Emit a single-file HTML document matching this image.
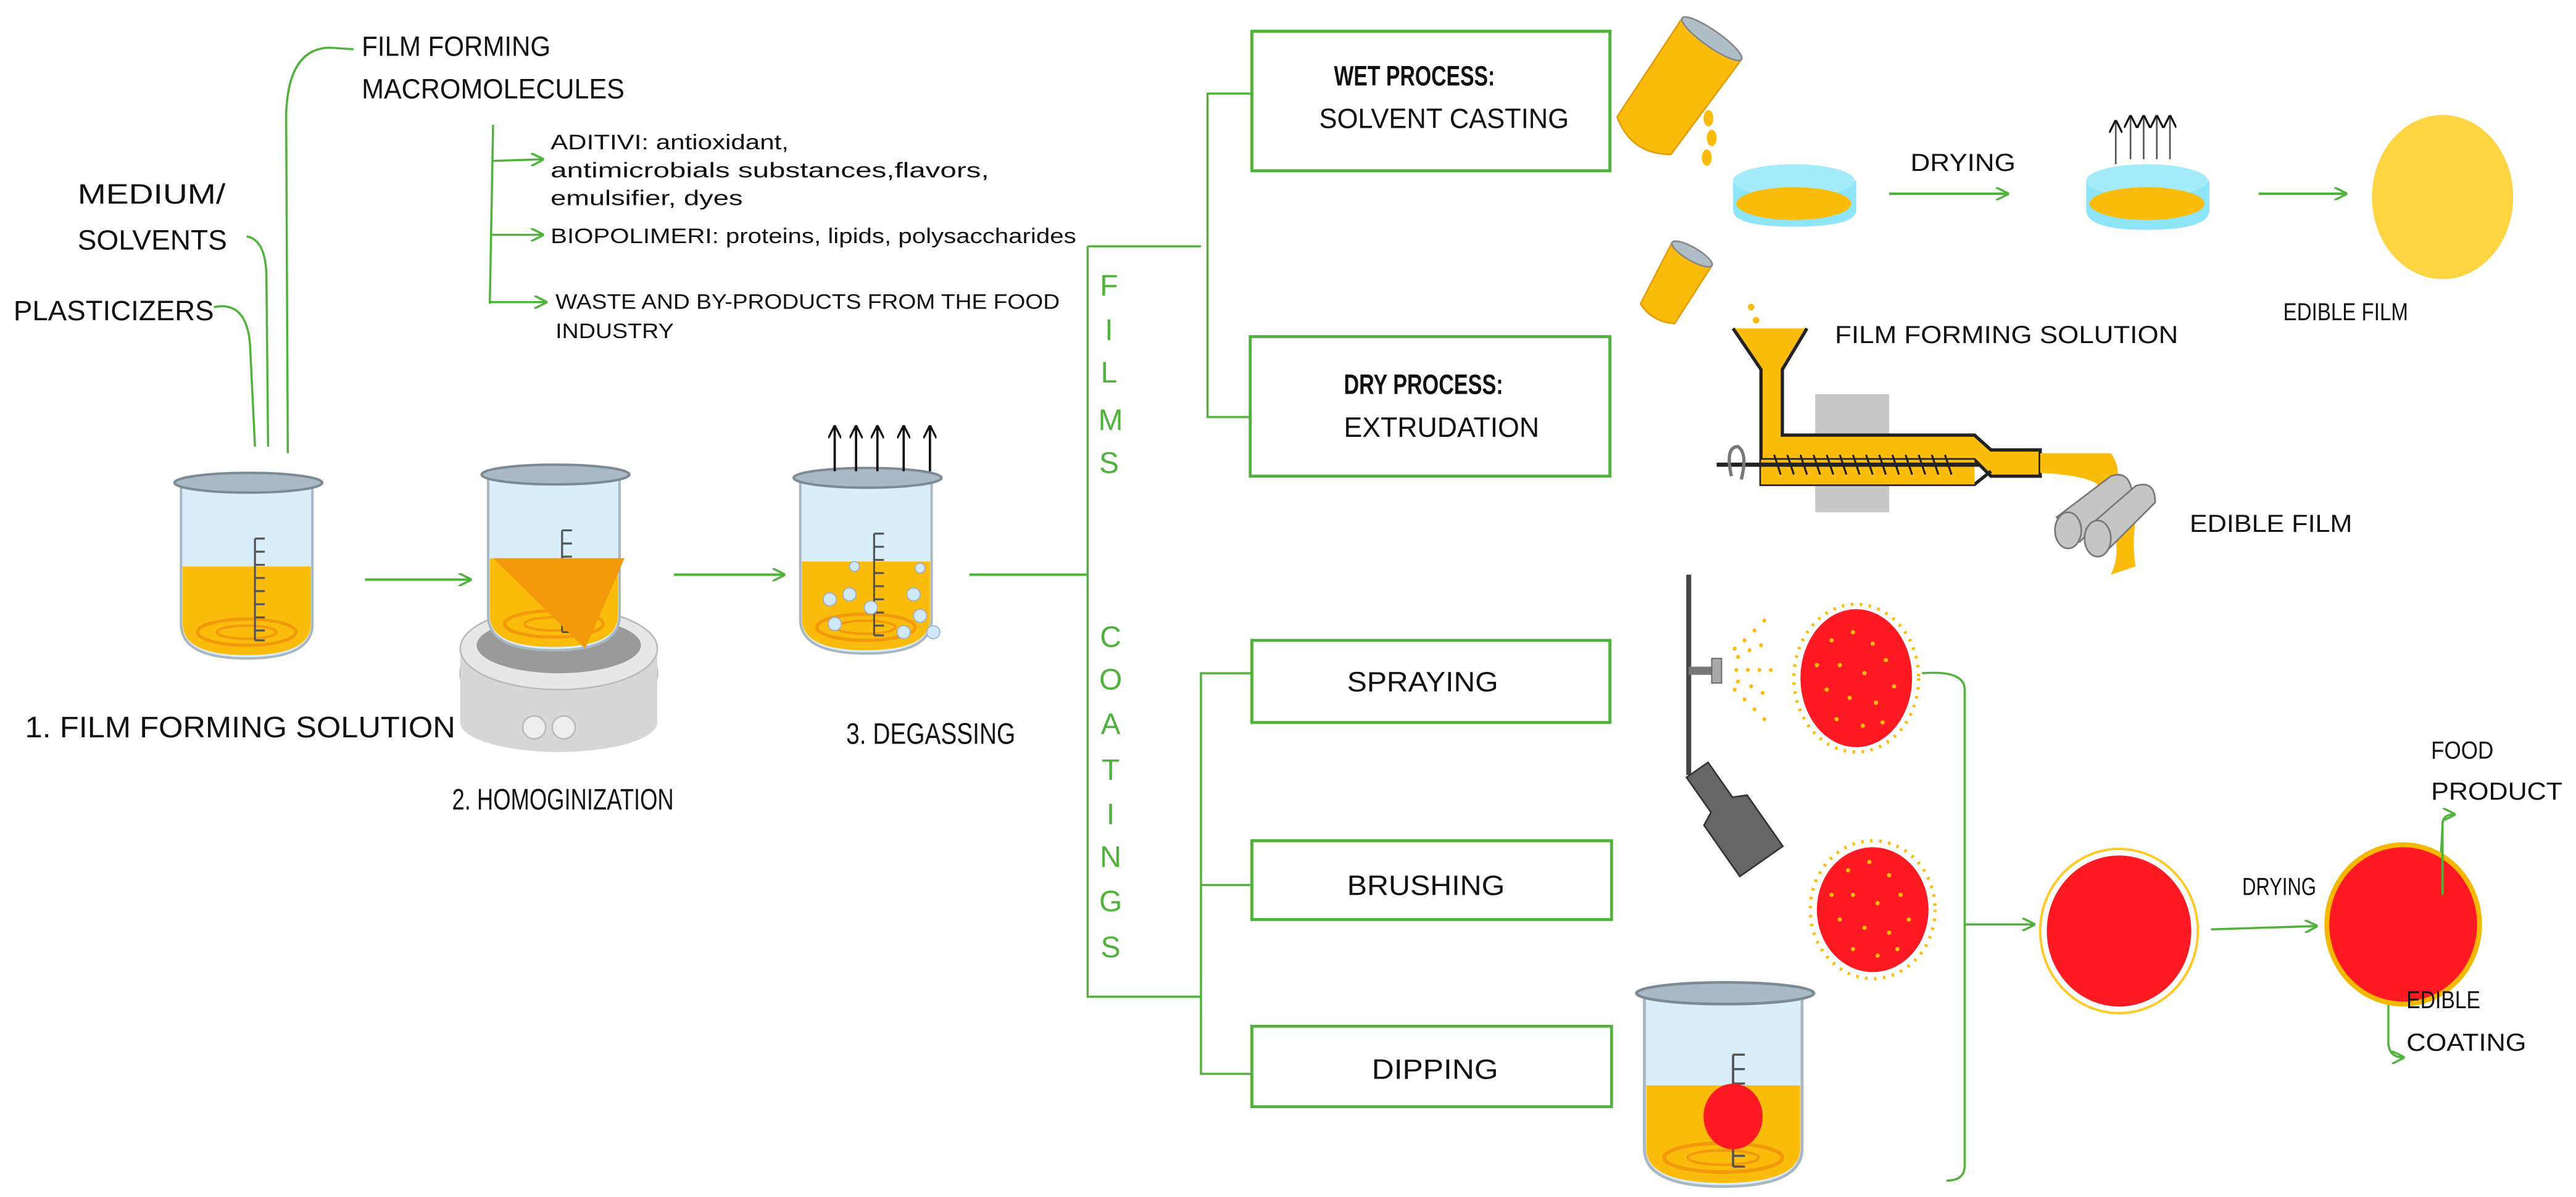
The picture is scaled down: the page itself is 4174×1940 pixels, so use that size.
<!DOCTYPE html>
<html><head><meta charset="utf-8"><style>
html,body{margin:0;padding:0;background:#fff;}
svg{display:block;}
text{font-family:"Liberation Sans",sans-serif;fill:#111;}
.g{fill:#4fb23a;}
</style></head><body>
<svg width="4174" height="1940" viewBox="0 0 1568 729" xmlns="http://www.w3.org/2000/svg">
<defs>
<marker id="ah" markerWidth="8" markerHeight="8" refX="7" refY="4" orient="auto" markerUnits="userSpaceOnUse"><path d="M0,0 L8,4 L0,8" fill="none" stroke="#4fb23a" stroke-width="1.3"/></marker>
<marker id="ak" markerWidth="8" markerHeight="8" refX="7" refY="4" orient="auto" markerUnits="userSpaceOnUse"><path d="M0,0 L8,4 L0,8" fill="none" stroke="#111" stroke-width="1.2"/></marker>
<g id="bk">
<path d="M5,10 L5,95 Q5,116 45,116 Q85,116 85,95 L85,10 Z" fill="#d8eefa" stroke="#a9b7c2" stroke-width="1.5"/>
<path d="M6,60 L84,60 L84,95 Q84,114 45,114 Q6,114 6,95 Z" fill="#fbbc0c"/>
<ellipse cx="45" cy="100" rx="30" ry="8" fill="none" stroke="#f29a0a" stroke-width="2"/>
<ellipse cx="45" cy="100" rx="18" ry="4" fill="none" stroke="#f29a0a" stroke-width="1.5"/>
<ellipse cx="46" cy="9" rx="45" ry="6" fill="#a9bac4" stroke="#7c8a94" stroke-width="1.5"/>
<path d="M50,43 L50,105 M50,43 L56,43 M50,51 L56,51 M50,59 L56,59 M50,67 L56,67 M50,75 L56,75 M50,83 L56,83 M50,91 L56,91 M50,99 L56,99 M50,105 L56,105" stroke="#555" stroke-width="1.2" fill="none"/>
</g>
</defs>

<!-- top-left labels -->
<text x="220" y="34" font-size="17" textLength="115" lengthAdjust="spacingAndGlyphs">FILM FORMING</text>
<text x="220" y="60" font-size="17" textLength="160" lengthAdjust="spacingAndGlyphs">MACROMOLECULES</text>
<text x="47" y="124" font-size="17" textLength="90" lengthAdjust="spacingAndGlyphs">MEDIUM/</text>
<text x="47" y="152" font-size="17" textLength="91" lengthAdjust="spacingAndGlyphs">SOLVENTS</text>
<text x="8" y="195" font-size="17" textLength="122" lengthAdjust="spacingAndGlyphs">PLASTICIZERS</text>
<g fill="none" stroke="#4fb23a" stroke-width="1.3">
<path d="M175,276 L174,70 Q175,30 200,29 L215,30"/>
<path d="M150,144 Q162,146 162,170 L163,272"/>
<path d="M130,187 Q150,183 152,210 L155,272"/>
<path d="M300,76 L298,185"/>
<path d="M300,98 L330,97" marker-end="url(#ah)"/>
<path d="M299,143 L330,143" marker-end="url(#ah)"/>
<path d="M298,184 L332,184" marker-end="url(#ah)"/>
</g>
<text x="335" y="91" font-size="13" textLength="145" lengthAdjust="spacingAndGlyphs">ADITIVI: antioxidant,</text>
<text x="335" y="108" font-size="13" textLength="267" lengthAdjust="spacingAndGlyphs">antimicrobials substances,flavors,</text>
<text x="335" y="125" font-size="13" textLength="117" lengthAdjust="spacingAndGlyphs">emulsifier, dyes</text>
<text x="335" y="148" font-size="13" textLength="320" lengthAdjust="spacingAndGlyphs">BIOPOLIMERI: proteins, lipids, polysaccharides</text>
<text x="338" y="188" font-size="13" textLength="307" lengthAdjust="spacingAndGlyphs">WASTE AND BY-PRODUCTS FROM THE FOOD</text>
<text x="338" y="206" font-size="13" textLength="72" lengthAdjust="spacingAndGlyphs">INDUSTRY</text>

<!-- beakers -->
<use href="#bk" transform="translate(105,285)"/>
<ellipse cx="340" cy="410" rx="60" ry="33" fill="#c9c9c9" stroke="#aaa"/>
<rect x="280" y="395" width="120" height="45" fill="#d7d7d7"/>
<ellipse cx="340" cy="440" rx="60" ry="18" fill="#d7d7d7"/>
<ellipse cx="340" cy="395" rx="60" ry="25" fill="#e7e7e7" stroke="#bbb"/>
<ellipse cx="340" cy="393" rx="50" ry="17" fill="#9a9a9a"/>
<circle cx="325" cy="443" r="7" fill="#eee" stroke="#bbb"/>
<circle cx="343" cy="443" r="7" fill="#eee" stroke="#bbb"/>
<use href="#bk" transform="translate(292,280)"/>
<path d="M300,340 L380,340 L356,395 Z" fill="#f29a0a"/>
<use href="#bk" transform="translate(482,282)"/>
<g fill="#cfe8fa" stroke="#9ac" stroke-width="0.6">
<circle cx="505" cy="365" r="4"/><circle cx="517" cy="362" r="4"/><circle cx="530" cy="370" r="4"/><circle cx="508" cy="380" r="4"/><circle cx="556" cy="362" r="4"/><circle cx="560" cy="375" r="4"/><circle cx="550" cy="385" r="4"/><circle cx="568" cy="385" r="4"/><circle cx="520" cy="345" r="3"/><circle cx="560" cy="346" r="3"/>
</g>
<g stroke="#111" stroke-width="1.4">
<line x1="508" y1="287" x2="508" y2="260" marker-end="url(#ak)"/>
<line x1="521" y1="287" x2="521" y2="260" marker-end="url(#ak)"/>
<line x1="534" y1="287" x2="534" y2="260" marker-end="url(#ak)"/>
<line x1="550" y1="287" x2="550" y2="260" marker-end="url(#ak)"/>
<line x1="566" y1="287" x2="566" y2="260" marker-end="url(#ak)"/>
</g>
<g fill="none" stroke="#4fb23a" stroke-width="1.5">
<line x1="222" y1="353" x2="286" y2="353" marker-end="url(#ah)"/>
<line x1="410" y1="350" x2="477" y2="350" marker-end="url(#ah)"/>
<line x1="590" y1="350" x2="662" y2="350"/>
</g>
<text x="15" y="449" font-size="18" textLength="262" lengthAdjust="spacingAndGlyphs">1. FILM FORMING SOLUTION</text>
<text x="275" y="493" font-size="18" textLength="135" lengthAdjust="spacingAndGlyphs">2. HOMOGINIZATION</text>
<text x="515" y="453" font-size="18" textLength="103" lengthAdjust="spacingAndGlyphs">3. DEGASSING</text>

<!-- brackets -->
<g fill="none" stroke="#4fb23a" stroke-width="1.3">
<path d="M662,150 L662,607 L731,607"/>
<path d="M662,150 L731,150"/>
<path d="M762,57 L735,57 L735,254 L762,254"/>
<path d="M762,410 L731,410 L731,654 L762,654 M731,539 L762,539"/>
</g>
<g font-size="18" text-anchor="middle">
<text x="675" y="180" class="g">F</text><text x="675" y="207" class="g">I</text><text x="675" y="233" class="g">L</text><text x="676" y="262" class="g">M</text><text x="675" y="288" class="g">S</text>
<text x="676" y="394" class="g">C</text><text x="676" y="420" class="g">O</text><text x="676" y="447" class="g">A</text><text x="676" y="475" class="g">T</text><text x="676" y="502" class="g">I</text><text x="676" y="528" class="g">N</text><text x="676" y="555" class="g">G</text><text x="676" y="583" class="g">S</text>
</g>

<!-- boxes -->
<g fill="#fff" stroke="#4fb23a" stroke-width="1.8">
<rect x="762" y="19" width="218" height="85"/>
<rect x="761" y="205" width="219" height="85"/>
<rect x="762" y="390" width="218" height="50"/>
<rect x="762" y="512" width="219" height="48"/>
<rect x="762" y="625" width="219" height="49"/>
</g>
<text x="812" y="52" font-size="17" font-weight="bold" textLength="98" lengthAdjust="spacingAndGlyphs">WET PROCESS:</text>
<text x="803" y="78" font-size="17" textLength="152" lengthAdjust="spacingAndGlyphs">SOLVENT CASTING</text>
<text x="818" y="240" font-size="17" font-weight="bold" textLength="97" lengthAdjust="spacingAndGlyphs">DRY PROCESS:</text>
<text x="818" y="266" font-size="17" textLength="119" lengthAdjust="spacingAndGlyphs">EXTRUDATION</text>
<text x="820" y="421" font-size="17" textLength="92" lengthAdjust="spacingAndGlyphs">SPRAYING</text>
<text x="820" y="545" font-size="17" textLength="96" lengthAdjust="spacingAndGlyphs">BRUSHING</text>
<text x="835" y="657" font-size="17" textLength="77" lengthAdjust="spacingAndGlyphs">DIPPING</text>

<!-- wet process graphics -->
<g transform="translate(1018,58) rotate(35)">
<path d="M-22,-42 L22,-42 L20,30 Q0,44 -20,30 Z" fill="#fbbc0c" stroke="#e39d0a"/>
<ellipse cx="0" cy="-42" rx="22" ry="5" fill="#b0bec8" stroke="#888"/>
</g>
<g fill="#fbbc0c"><ellipse cx="1040" cy="72" rx="3" ry="5"/><ellipse cx="1042" cy="84" rx="3" ry="5"/><ellipse cx="1039" cy="96" rx="3" ry="5"/></g>
<g>
<path d="M1055,110 L1055,128 Q1055,138 1092,138 Q1130,138 1130,128 L1130,110 Z" fill="#8ee4f8"/>
<ellipse cx="1092" cy="110" rx="37" ry="10" fill="#a5ecfb"/>
<ellipse cx="1092" cy="124" rx="35" ry="10" fill="#fbbc0c"/>
<path d="M1270,110 L1270,128 Q1270,140 1307,140 Q1345,140 1345,128 L1345,110 Z" fill="#8ee4f8"/>
<ellipse cx="1307" cy="110" rx="37" ry="10" fill="#a5ecfb"/>
<ellipse cx="1307" cy="124" rx="35" ry="10" fill="#fbbc0c"/>
</g>
<g stroke="#555" stroke-width="1">
<line x1="1288" y1="100" x2="1288" y2="74" marker-end="url(#ak)"/>
<line x1="1297" y1="97" x2="1297" y2="71" marker-end="url(#ak)"/>
<line x1="1305" y1="97" x2="1305" y2="71" marker-end="url(#ak)"/>
<line x1="1313" y1="97" x2="1313" y2="71" marker-end="url(#ak)"/>
<line x1="1321" y1="97" x2="1321" y2="71" marker-end="url(#ak)"/>
</g>
<text x="1163" y="104" font-size="15" textLength="64" lengthAdjust="spacingAndGlyphs">DRYING</text>
<g fill="none" stroke="#4fb23a" stroke-width="1.5">
<line x1="1150" y1="118" x2="1222" y2="118" marker-end="url(#ah)"/>
<line x1="1375" y1="118" x2="1428" y2="118" marker-end="url(#ah)"/>
</g>
<ellipse cx="1487" cy="120" rx="43" ry="50" fill="#fdd442"/>
<text x="1390" y="195" font-size="15" textLength="76" lengthAdjust="spacingAndGlyphs">EDIBLE FILM</text>

<!-- extruder -->
<g transform="translate(1020,172) rotate(30)">
<path d="M-14,-20 L14,-20 L12,22 Q0,28 -12,22 Z" fill="#fbbc0c" stroke="#e39d0a"/>
<ellipse cx="0" cy="-20" rx="14" ry="4" fill="#b0bec8" stroke="#888"/>
</g>
<g fill="#fbbc0c"><circle cx="1066" cy="187" r="2"/><circle cx="1069" cy="195" r="2"/><circle cx="1064" cy="203" r="2"/></g>
<rect x="1105" y="240" width="45" height="72" fill="#c8c8c8"/>
<path d="M1055,200 L1072,225 L1072,280 L1202,280 L1212,290 L1242,290 L1242,274 L1212,274 L1202,265 L1085,265 L1085,225 L1100,200" fill="#fbbc0c" stroke="#222" stroke-width="2"/>
<path d="M1072,280 L1072,295 L1202,295 L1212,287" fill="none" stroke="#222" stroke-width="2"/>
<rect x="1072" y="280" width="130" height="15" fill="#fbbc0c"/>
<line x1="1045" y1="283" x2="1205" y2="283" stroke="#222" stroke-width="2.5"/>
<path d="M1080,277 l4,12 M1088,277 l4,12 M1096,277 l4,12 M1104,277 l4,12 M1112,277 l4,12 M1120,277 l4,12 M1128,277 l4,12 M1136,277 l4,12 M1144,277 l4,12 M1152,277 l4,12 M1160,277 l4,12 M1168,277 l4,12 M1176,277 l4,12 M1184,277 l4,12" stroke="#222" stroke-width="1.2"/>
<path d="M1054,290 Q1050,272 1058,272 Q1064,276 1060,292" fill="none" stroke="#777" stroke-width="2"/>
<path d="M1242,276 L1285,276 Q1292,285 1288,300 L1280,300 Q1280,290 1242,288 Z" fill="#fbbc0c"/>
<path d="M1285,320 Q1292,335 1285,350 L1300,345 Q1298,330 1300,318 Z" fill="#fbbc0c"/>
<g fill="#c5c5c5" stroke="#777">
<path d="M1252,315 L1285,290 Q1296,286 1298,300 L1266,330 Z"/>
<ellipse cx="1259" cy="323" rx="8" ry="11"/>
<path d="M1270,322 L1300,296 Q1312,292 1312,306 L1284,334 Z"/>
<ellipse cx="1277" cy="328" rx="8" ry="11"/>
</g>
<text x="1117" y="209" font-size="15" textLength="209" lengthAdjust="spacingAndGlyphs">FILM FORMING SOLUTION</text>
<text x="1333" y="324" font-size="15" textLength="99" lengthAdjust="spacingAndGlyphs">EDIBLE FILM</text>

<!-- coatings -->
<line x1="1028" y1="350" x2="1028" y2="472" stroke="#444" stroke-width="3"/>
<rect x="1028" y="406" width="14" height="5" fill="#777"/>
<rect x="1042" y="401" width="6" height="15" fill="#aaa" stroke="#666" stroke-width="0.7"/>
<g fill="#fbbc0c">
<circle cx="1056" cy="395" r="1.2"/><circle cx="1062" cy="390" r="1.2"/><circle cx="1068" cy="384" r="1.2"/><circle cx="1074" cy="378" r="1.2"/>
<circle cx="1057" cy="408" r="1.2"/><circle cx="1064" cy="408" r="1.2"/><circle cx="1071" cy="408" r="1.2"/><circle cx="1078" cy="408" r="1.2"/>
<circle cx="1056" cy="420" r="1.2"/><circle cx="1062" cy="426" r="1.2"/><circle cx="1068" cy="432" r="1.2"/><circle cx="1074" cy="438" r="1.2"/>
<circle cx="1058" cy="400" r="1.2"/><circle cx="1065" cy="396" r="1.2"/><circle cx="1072" cy="393" r="1.2"/><circle cx="1058" cy="415" r="1.2"/><circle cx="1066" cy="418" r="1.2"/><circle cx="1073" cy="422" r="1.2"/>
</g>
<ellipse cx="1130" cy="413" rx="38" ry="45" fill="#fff" stroke="#fbbc0c" stroke-width="2" stroke-dasharray="1.5 4"/>
<ellipse cx="1130" cy="413" rx="34" ry="42" fill="#fe1a22"/>
<ellipse cx="1140" cy="554" rx="38" ry="42" fill="#fff" stroke="#fbbc0c" stroke-width="2" stroke-dasharray="1.5 4"/>
<ellipse cx="1140" cy="554" rx="34" ry="38" fill="#fe1a22"/>
<g fill="#fbbc0c">
<circle cx="1115" cy="390" r="1.3"/><circle cx="1128" cy="385" r="1.3"/><circle cx="1140" cy="392" r="1.3"/><circle cx="1120" cy="405" r="1.3"/><circle cx="1135" cy="410" r="1.3"/><circle cx="1148" cy="402" r="1.3"/><circle cx="1112" cy="420" r="1.3"/><circle cx="1126" cy="425" r="1.3"/><circle cx="1142" cy="428" r="1.3"/><circle cx="1153" cy="418" r="1.3"/><circle cx="1118" cy="438" r="1.3"/><circle cx="1134" cy="442" r="1.3"/><circle cx="1146" cy="440" r="1.3"/><circle cx="1106" cy="405" r="1.3"/>
<circle cx="1125" cy="530" r="1.3"/><circle cx="1138" cy="525" r="1.3"/><circle cx="1150" cy="533" r="1.3"/><circle cx="1128" cy="545" r="1.3"/><circle cx="1143" cy="550" r="1.3"/><circle cx="1157" cy="545" r="1.3"/><circle cx="1120" cy="560" r="1.3"/><circle cx="1135" cy="565" r="1.3"/><circle cx="1150" cy="568" r="1.3"/><circle cx="1162" cy="560" r="1.3"/><circle cx="1128" cy="578" r="1.3"/><circle cx="1143" cy="582" r="1.3"/><circle cx="1155" cy="578" r="1.3"/><circle cx="1115" cy="545" r="1.3"/>
</g>
<g transform="translate(1055,500) rotate(-35)">
<path d="M-8,-38 L8,-38 L8,-12 L16,-8 L16,30 L-16,30 L-16,-8 L-8,-12 Z" fill="#666" stroke="#333"/>
</g>
<!-- dipping beaker -->
<use href="#bk" transform="translate(995,595) scale(1.2,1.1)"/>
<ellipse cx="1055" cy="680" rx="18" ry="20" fill="#fe1a22"/>

<g fill="none" stroke="#4fb23a" stroke-width="1.3">
<path d="M1170,410 Q1196,408 1196,420 L1196,710 Q1196,719 1185,719"/>
<path d="M1196,563 L1238,563" marker-end="url(#ah)"/>
<path d="M1346,566 L1410,564" marker-end="url(#ah)"/>
<path d="M1485,540 L1487,502 Q1487,496 1494,496" marker-end="url(#ah)"/>
<path d="M1454,612 L1454,636 Q1455,644 1463,644" marker-end="url(#ah)"/>
</g>
<ellipse cx="1290" cy="567" rx="48" ry="50" fill="#fff" stroke="#fdca2a" stroke-width="1.5"/>
<ellipse cx="1290" cy="567" rx="44" ry="46" fill="#fe1a22"/>
<ellipse cx="1463" cy="563" rx="48" ry="50" fill="#f5b800"/>
<ellipse cx="1463" cy="563" rx="45" ry="47" fill="#fe1a22"/>
<line x1="1487" y1="500" x2="1487" y2="545" stroke="#4fb23a" stroke-width="1.3"/>
<text x="1365" y="545" font-size="15" textLength="45" lengthAdjust="spacingAndGlyphs">DRYING</text>
<text x="1480" y="462" font-size="15" textLength="38" lengthAdjust="spacingAndGlyphs">FOOD</text>
<text x="1480" y="487" font-size="15" textLength="80" lengthAdjust="spacingAndGlyphs">PRODUCT</text>
<text x="1465" y="614" font-size="15" textLength="45" lengthAdjust="spacingAndGlyphs">EDIBLE</text>
<text x="1465" y="640" font-size="15" textLength="73" lengthAdjust="spacingAndGlyphs">COATING</text>
</svg>
</body></html>
